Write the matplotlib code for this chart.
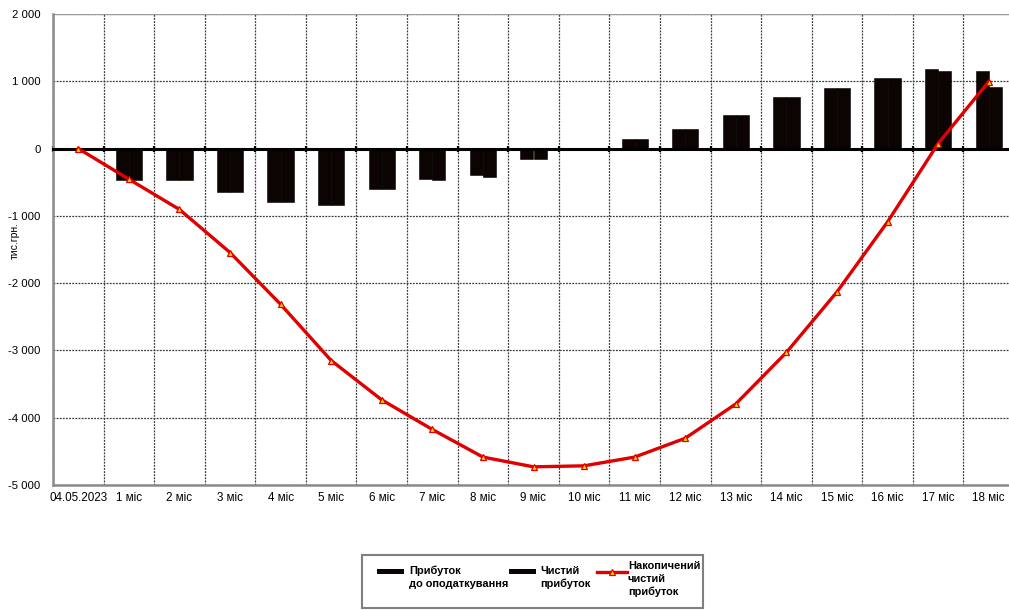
import matplotlib.pyplot as plt
import matplotlib.ticker as mticker
from matplotlib.patches import Rectangle
from matplotlib.lines import Line2D
import numpy as np

plt.rcParams['font.family'] = ['Liberation Sans', 'DejaVu Sans']

categories = ['04.05.2023'] + [f'{i} міс' for i in range(1, 19)]

# тис. грн
profit_before_tax = [0, -460, -460, -640, -790, -835, -605, -445, -400, -150, 0,
                     135, 295, 495, 760, 900, 1045, 1190, 1155]
net_profit = [0, -460, -460, -640, -790, -835, -605, -465, -420, -150, 0,
              135, 295, 495, 760, 900, 1045, 1155, 915]
cumulative_net = [0, -455, -905, -1545, -2315, -3150, -3735, -4175, -4585, -4730,
                  -4715, -4585, -4305, -3795, -3030, -2130, -1090, 75, 995]

W, H = 1009, 610
fig = plt.figure(figsize=(W / 100, H / 100), dpi=100)
ax = fig.add_axes([53 / W, 1 - 485 / H, (1014 - 53) / W, (485 - 14) / H])

x = np.arange(len(categories))
bw = 0.26
ax.bar(x - bw / 2, profit_before_tax, bw, color='#0c0303', edgecolor='#000000',
       linewidth=0.4, zorder=2)
ax.bar(x + bw / 2, net_profit, bw, color='#0c0303', edgecolor='#000000',
       linewidth=0.4, zorder=2)
ax.plot(x, cumulative_net, color='#e00000', lw=2.4, marker='^', markersize=5,
        markerfacecolor='#ffd400', markeredgecolor='#e00000', markeredgewidth=0.9,
        zorder=4)

ax.set_xlim(-0.5, len(categories) - 0.5)
ax.set_ylim(-5000, 2000)

# category boundaries carry the grid and the small ticks on the zero line
ax.set_xticks(np.arange(-0.5, len(categories) + 0.5, 1))
ax.set_xticks(x, minor=True)
ax.set_xticklabels(categories, minor=True)
ax.tick_params(axis='x', which='major', bottom=False, top=True, labelbottom=False,
               labeltop=False, direction='inout', length=5, width=1.6, color='black')
ax.tick_params(axis='x', which='minor', bottom=False, top=False, pad=3, labelsize=8.4)

ax.yaxis.set_major_locator(mticker.MultipleLocator(1000))
ax.yaxis.set_major_formatter(mticker.FuncFormatter(lambda v, p: f'{v:,.0f}'.replace(',', ' ')))
ax.tick_params(axis='y', length=0, pad=9, labelsize=8.2)

ax.grid(True, which='major', color='#3a3a3a', linestyle=(0, (1.5, 1)), linewidth=0.9, zorder=0)
ax.set_axisbelow(True)
ax.axhline(2000, color='#9a9a9a', lw=1.6, zorder=1)

ax.spines['top'].set_position(('data', 0))
ax.spines['top'].set_color('black')
ax.spines['top'].set_linewidth(2.2)
ax.spines['top'].set_zorder(3)
ax.spines['right'].set_visible(False)
for s in ('left', 'bottom'):
    ax.spines[s].set_color('#8a8a8a')
    ax.spines[s].set_linewidth(1.8)

ax.set_ylabel('тис.грн.', fontsize=7.5)
ax.yaxis.set_label_coords(-0.034, 0.52)


def fx(px):
    return px / W


def fy(py):
    return 1 - py / H


# legend box under the plot
fig.patches.append(Rectangle((fx(362), fy(608)), fx(703) - fx(362), fy(555) - fy(608),
                             transform=fig.transFigure, facecolor='white',
                             edgecolor='#808080', linewidth=1.5))
for x0 in (377, 509):
    fig.patches.append(Rectangle((fx(x0), fy(574)), fx(27), 5 / H,
                                 transform=fig.transFigure, facecolor='#0c0303',
                                 edgecolor='none'))
fig.lines.append(Line2D([fx(597), fx(627)], [fy(572), fy(572)], transform=fig.transFigure,
                        color='#e00000', lw=2.4))
fig.lines.append(Line2D([fx(612)], [fy(572)], transform=fig.transFigure, marker='^',
                        markersize=5, markerfacecolor='#ffd400', markeredgecolor='#e00000',
                        markeredgewidth=0.9))
legend_kw = dict(fontsize=7.9, fontweight='bold', va='top', ha='left', linespacing=1.35)
fig.text(fx(409), fy(566), 'Прибуток\nдо оподаткування', **legend_kw)
fig.text(fx(540), fy(566), 'Чистий\nприбуток', **legend_kw)
fig.text(fx(628), fy(561), 'Накопичений\nчистий\nприбуток', **legend_kw)

fig.savefig('out.png', dpi=100)
